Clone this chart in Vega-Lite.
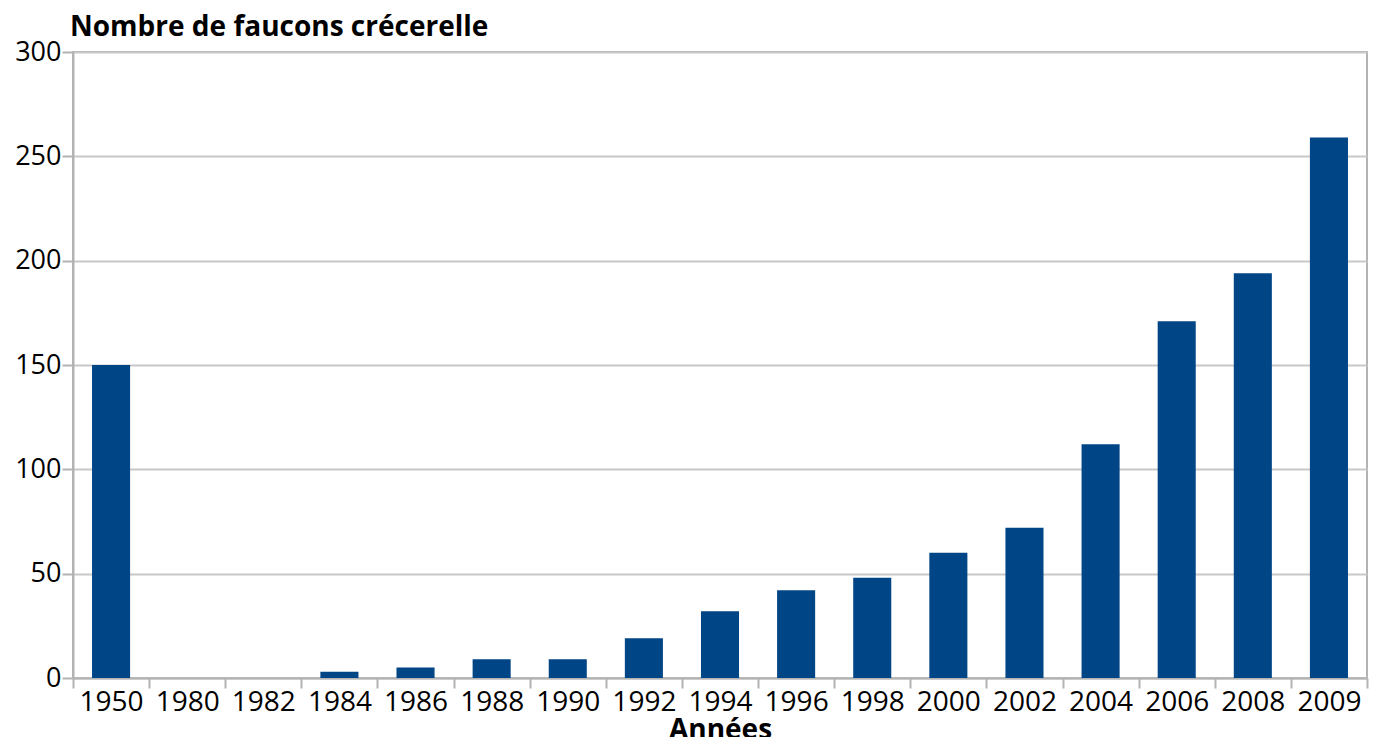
{
  "$schema": "https://vega.github.io/schema/vega-lite/v6.json",
  "autosize": {"type": "none"},
  "width": 1294,
  "height": 626,
  "padding": {"left": 73, "top": 52, "right": 12, "bottom": 59},
  "background": "white",
  "title": {
    "text": "Nombre de faucons crécerelle",
    "anchor": "start",
    "frame": "group",
    "font": "Open Sans",
    "fontSize": 28,
    "fontWeight": "bold",
    "color": "#000000",
    "dx": -3,
    "offset": -4
  },
  "config": {
    "view": {"stroke": "#b3b3b3", "strokeWidth": 2},
    "font": "Open Sans"
  },
  "data": {
    "values": [
      {"annee": "1950", "nombre": 150},
      {"annee": "1980", "nombre": 0},
      {"annee": "1982", "nombre": 0},
      {"annee": "1984", "nombre": 3},
      {"annee": "1986", "nombre": 5},
      {"annee": "1988", "nombre": 9},
      {"annee": "1990", "nombre": 9},
      {"annee": "1992", "nombre": 19},
      {"annee": "1994", "nombre": 32},
      {"annee": "1996", "nombre": 42},
      {"annee": "1998", "nombre": 48},
      {"annee": "2000", "nombre": 60},
      {"annee": "2002", "nombre": 72},
      {"annee": "2004", "nombre": 112},
      {"annee": "2006", "nombre": 171},
      {"annee": "2008", "nombre": 194},
      {"annee": "2009", "nombre": 259}
    ]
  },
  "mark": {"type": "bar", "color": "#004586", "width": {"band": 0.5}},
  "encoding": {
    "x": {
      "field": "annee",
      "type": "ordinal",
      "sort": null,
      "scale": {"paddingInner": 0, "paddingOuter": 0},
      "axis": {
        "title": "Années",
        "titleFont": "Open Sans",
        "titleFontSize": 28,
        "titleFontWeight": "bold",
        "titleColor": "#000000",
        "titlePadding": 0,
        "labelAngle": 0,
        "labelFont": "Open Sans",
        "labelFontSize": 28,
        "labelColor": "#000000",
        "labelPadding": 0,
        "domainColor": "#b3b3b3",
        "domainWidth": 2,
        "tickColor": "#b3b3b3",
        "tickWidth": 2,
        "tickSize": 10,
        "tickBand": "extent",
        "grid": false
      }
    },
    "y": {
      "field": "nombre",
      "type": "quantitative",
      "scale": {"domain": [0, 300], "nice": false},
      "axis": {
        "title": null,
        "values": [0, 50, 100, 150, 200, 250, 300],
        "labelFont": "Open Sans",
        "labelFontSize": 27,
        "labelColor": "#000000",
        "labelPadding": 1,
        "domainColor": "#b3b3b3",
        "domainWidth": 2,
        "tickColor": "#b3b3b3",
        "tickWidth": 2,
        "tickSize": 11,
        "gridColor": "#c8c8c8",
        "gridWidth": 2
      }
    }
  }
}
